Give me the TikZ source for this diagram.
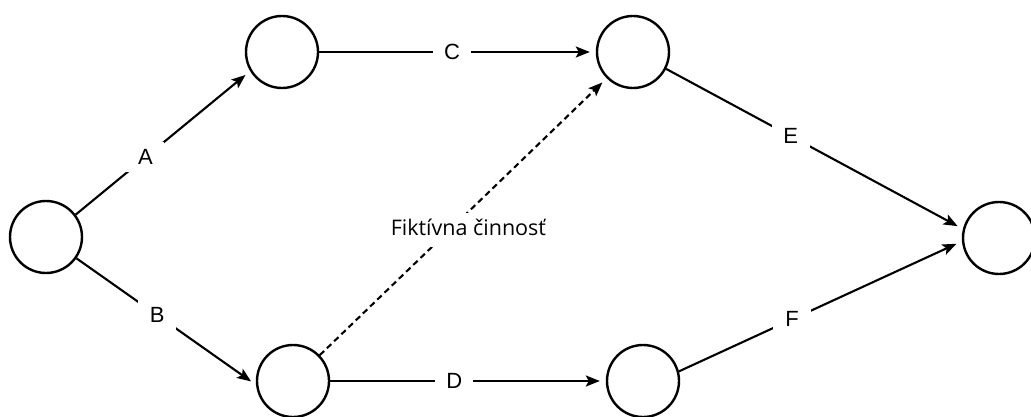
\documentclass[tikz,border=0pt]{standalone}
\usepackage{fontspec}
\setmainfont{Liberation Sans}
\newfontfamily\notefont{Open Sans}
\usetikzlibrary{arrows.meta}
\begin{document}
\begin{tikzpicture}[x=1pt,y=-1pt,
  event/.style={circle, draw, line width=2.4pt, minimum size=72pt, inner sep=0pt},
  act/.style={line width=2.1pt, -{Stealth[length=14pt,width=11pt,inset=3pt]}, shorten >=6pt},
  dummy/.style={act, dash pattern=on 6pt off 4pt},
  lbl/.style={fill=white, font=\fontsize{22}{22}\selectfont, minimum width=38pt, minimum height=30pt, inner sep=0pt},
  note/.style={fill=white, font=\notefont\fontsize{21.5}{21.5}\selectfont, text height=14pt, text depth=4pt, inner xsep=3pt, inner ysep=8pt}]
\useasboundingbox (0,0) rectangle (1031,417);

% events of the network
\node[event] (L)  at (46,237)  {};
\node[event] (TL) at (282,52)  {};
\node[event] (TR) at (633,52)  {};
\node[event] (BL) at (293,381) {};
\node[event] (BR) at (643,381) {};
\node[event] (R)  at (999,238) {};

% activities
\draw[act] (L.37)  -- node[lbl, pos=0.40] {A} (TL.211);
\draw[act] (L.-35) -- node[lbl, pos=0.45] {B} (BL.186);
\draw[act] (TL.east) -- node[lbl, pos=0.48] {C} (TR.west);
\draw[act] (BL.east) -- node[lbl, pos=0.45] {D} (BR.west);
\draw[act] (TR.-27) -- node[lbl, pos=0.42] {E} (R.166);
\draw[act] (BR.15)  -- node[lbl, pos=0.40] {F} (R.185);

% dummy activity
\draw[dummy] (BL.44) -- node[note, pos=0.452, xshift=19pt] {Fiktívna činnosť} (TR.225);
\end{tikzpicture}
\end{document}
